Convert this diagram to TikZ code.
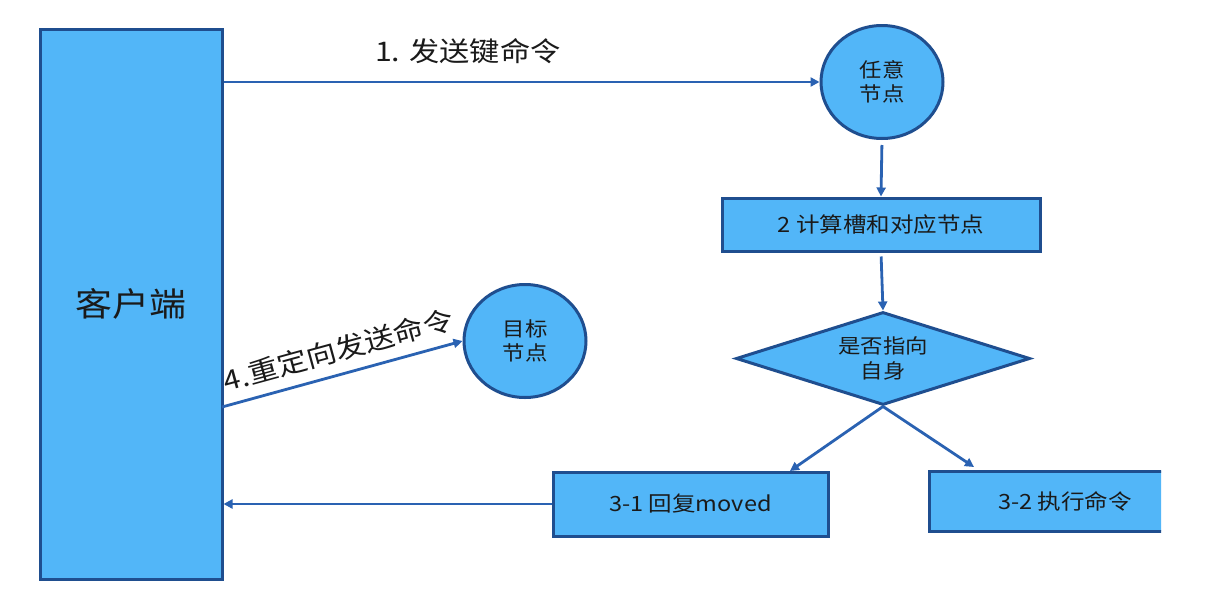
\documentclass[tikz,border=0pt]{standalone}
\usepackage{fontspec}
\usetikzlibrary{shapes.geometric,arrows.meta}
\newfontfamily\cjk{Noto Sans CJK SC}[FakeStretch=1.12]
\definecolor{boxfill}{HTML}{52B6F8}
\definecolor{boxline}{HTML}{1F4E8F}
\definecolor{arrcol}{HTML}{2A62B2}
\definecolor{txt}{HTML}{1A1A1A}
\begin{document}
\begin{tikzpicture}[x=1pt,y=-1pt,
  shapebox/.style={draw=boxline,line width=3pt,fill=boxfill,text=txt,inner sep=0pt,align=center},
  recbox/.style={shapebox,rectangle},
  circbox/.style={shapebox,ellipse,minimum width=122pt,minimum height=113pt},
  arr/.style={draw=arrcol,line width=2.8pt,-{Triangle[length=9pt,width=9pt]}},
  lbl/.style={text=txt,font=\cjk\fontsize{27}{31}\selectfont,inner sep=0pt}]
\useasboundingbox[fill=white] (0,0) rectangle (1208,592);
\node[recbox,minimum width=182pt,minimum height=550pt] (client) at (131,304) {};
\node[text=txt,font=\cjk\fontsize{33}{38}\selectfont] (clientlbl) at (131,304) {客户端};
\node[circbox,font=\cjk\fontsize{20}{24}\selectfont] (any) at (882,82) {任意\\节点};
\node[recbox,minimum width=318pt,minimum height=53pt,font=\cjk\fontsize{21}{25}\selectfont] (calc) at (881,224.5) {2 计算槽和对应节点};
\node[shapebox,diamond,shape aspect=3.16,minimum width=294pt,minimum height=93pt,font=\cjk\fontsize{20}{25}\selectfont] (dia) at (883,358.5) {是否指向\\自身};
\node[recbox,minimum width=275pt,minimum height=64pt,font=\cjk\fontsize{21}{25}\selectfont] (moved) at (690.5,504) {3-1 回复moved};
\begin{scope}
\clip (900,440) rectangle (1161,560);
\node[recbox,minimum width=272pt,minimum height=60pt,font=\cjk\fontsize{21}{25}\selectfont] (exec) at (1065,501) {3-2 执行命令};
\end{scope}
\node[circbox,font=\cjk\fontsize{20}{24}\selectfont] (target) at (525,341) {目标\\节点};
\coordinate (m31) at (790,471);
\coordinate (m32) at (974,467);
\coordinate (s4) at (222,407);
\draw[arr] (client.east |- any.west) -- node[lbl,above=17pt,pos=0.41] (l1) {1. 发送键命令} (any.west);
\draw[arr,shorten <=5pt] (any.south) -- (calc.north);
\draw[arr,shorten <=4pt] (calc.south) -- (dia.north);
\draw[arr] (dia.south) -- (m31);
\draw[arr] (dia.south) -- (m32);
\draw[arr] (moved.west) -- (client.east |- moved.west);
\draw[arr] (s4) -- node[lbl,sloped,above=10pt,pos=0.51] (l4) {4.重定向发送命令} (target.west);
\end{tikzpicture}
\end{document}
